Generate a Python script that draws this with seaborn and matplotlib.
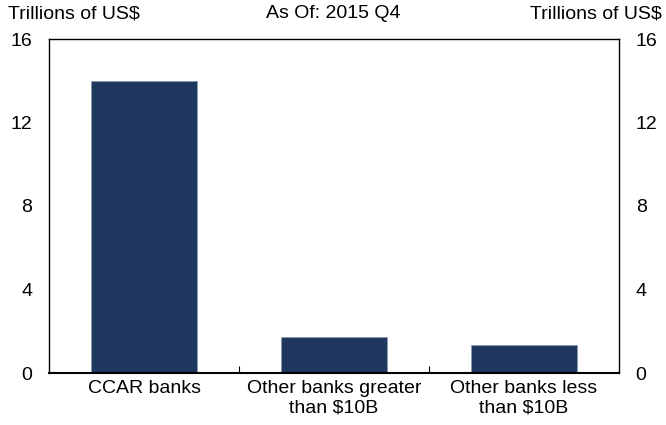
import matplotlib
matplotlib.use("Agg")
import matplotlib.pyplot as plt
import seaborn as sns
import pandas as pd

categories = ["CCAR banks", "Other banks greater\nthan $10B", "Other banks less\nthan $10B"]
values = [14.0, 1.72, 1.33]
yticks = [0, 4, 8, 12, 16]

sns.set_style("white")
plt.rcParams['font.family'] = ['Liberation Sans', 'DejaVu Sans']
plt.rcParams['text.color'] = 'black'
plt.rcParams['xtick.color'] = 'black'
plt.rcParams['ytick.color'] = 'black'
FS = 14

df = pd.DataFrame({"cat": categories, "val": values})
fig = plt.figure(figsize=(6.66, 4.25), dpi=100)
ax = fig.add_axes([49/666, 52/425, 570/666, 334/425])
sns.barplot(data=df, x="cat", y="val", color="#1d375e", saturation=1, width=0.56,
            edgecolor="#8a9bb0", linewidth=0.6, ax=ax)
ax.set_xlim(-0.5, 2.5)
ax.set_ylim(0, 16)
ax.set_yticks(yticks)
ax.set_yticklabels([str(t) for t in yticks], fontsize=FS)
ax.tick_params(axis='y', length=0, pad=12, labelleft=True, labelright=True, labelcolor='black')
ax.tick_params(axis='x', length=0, pad=5, labelsize=FS, labelcolor='black')
ax.set_xticks([0, 1, 2])
ax.set_xticklabels(categories, fontsize=FS)
ax.set_xticks([0.5, 1.5], minor=True)
ax.tick_params(axis='x', which='minor', bottom=True, direction='in', length=5, width=0.8, color='black')
ax.set_xlabel("")
ax.set_ylabel("")
for s in ax.spines.values():
    s.set_visible(True)
    s.set_color("black")
    s.set_linewidth(1.0)
ax.spines['bottom'].set_linewidth(1.5)

fig.text(8/666, 1 - 14/425, "Trillions of US$", ha="left", va="center", fontsize=FS)
fig.text(333/666, 1 - 14/425, "As Of: 2015 Q4", ha="center", va="center", fontsize=FS)
fig.text(662/666, 1 - 14/425, "Trillions of US$", ha="right", va="center", fontsize=FS)

fig.savefig("out.png", dpi=100)
